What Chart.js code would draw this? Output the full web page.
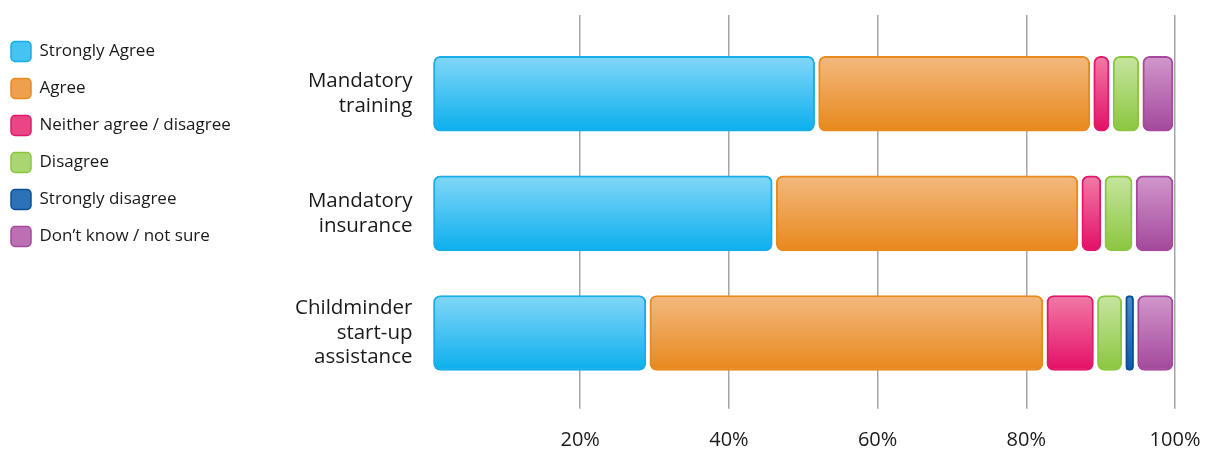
<!DOCTYPE html>
<html>
<head>
<meta charset="utf-8">
<script src="https://cdn.jsdelivr.net/npm/chart.js@4.4.0/dist/chart.umd.min.js"></script>
<style>
  html, body { margin: 0; padding: 0; background: #fff; }
  #wrap { width: 1217px; height: 454px; }
</style>
</head>
<body>
<div id="wrap"><canvas id="chart"></canvas></div>
<script>
// categories and answers (percent of respondents)
const categories = [['Mandatory', 'training'], ['Mandatory', 'insurance'], ['Childminder', 'start-up', 'assistance']];
const seriesNames = ['Strongly Agree', 'Agree', 'Neither agree / disagree', 'Disagree', 'Strongly disagree', 'Don\u2019t know / not sure'];
const stronglyAgree = [51.8, 46.1, 29.1];
const agree = [37.0, 41.1, 53.4];
const neither = [2.6, 3.1, 6.8];
const disagree = [4.0, 4.2, 3.8];
const stronglyDisagree = [0, 0, 1.6];
const dontKnow = [4.6, 5.5, 5.3];
const tickValues = [20, 40, 60, 80, 100];

const BAR = 75;
const FONT = '"Open Sans", Lato, sans-serif';
const TEXT = '#1a1a1a';
const PAD_LEFT = -6;

// top / bottom / edge colour for each answer
const palette = [
  { top: '#82d7f7', mid: '#45c3f2', bottom: '#0bafed', edge: '#17ade8' },
  { top: '#f3b97f', mid: '#eea04d', bottom: '#e8881c', edge: '#e98a1f' },
  { top: '#f27aa6', mid: '#ea4585', bottom: '#e30f66', edge: '#e3176b' },
  { top: '#c6e5a0', mid: '#a9d670', bottom: '#8bc63f', edge: '#8cc63f' },
  { top: '#4a8cc9', mid: '#2b73b6', bottom: '#0c5aa3', edge: '#0a4f93' },
  { top: '#d197cb', mid: '#ba70b3', bottom: '#a3489b', edge: '#a6499e' }
];

function fillFor(i) {
  return (ctx) => {
    const chart = ctx.chart;
    const y = chart.scales.y;
    if (!y || ctx.type !== 'data') return palette[i].bottom;
    const c = y.getPixelForValue(ctx.dataIndex);
    const g = chart.ctx.createLinearGradient(0, c - BAR / 2, 0, c + BAR / 2);
    g.addColorStop(0, palette[i].top);
    g.addColorStop(1, palette[i].bottom);
    return g;
  };
}

const values = [stronglyAgree, agree, neither, disagree, stronglyDisagree, dontKnow];

// small white gap between the stacked pieces
const gapPlugin = {
  id: 'segmentGap',
  beforeDatasetDraw(chart, args) {
    args.meta.data.forEach(el => {
      el.$saved = [el.x, el.base];
      const w = el.x - el.base;
      if (Math.abs(w) < 5) return;
      const d = w > 0 ? 2 : -2;
      el.x -= d;
      el.base += d;
    });
  },
  afterDatasetDraw(chart, args) {
    args.meta.data.forEach(el => {
      if (el.$saved) { el.x = el.$saved[0]; el.base = el.$saved[1]; }
    });
  }
};

const setTicks = (scale) => { scale.ticks = tickValues.map(v => ({ value: v })); };
const r = 7;

new Chart(document.getElementById('chart'), {
  type: 'bar',
  data: {
    labels: categories,
    datasets: seriesNames.map((name, i) => ({
      label: name,
      data: values[i],
      backgroundColor: fillFor(i),
      borderColor: palette[i].edge,
      borderWidth: 2,
      borderRadius: { topLeft: r, topRight: r, bottomLeft: r, bottomRight: r },
      borderSkipped: false,
      barThickness: BAR
    }))
  },
  options: {
    indexAxis: 'y',
    responsive: true,
    maintainAspectRatio: false,
    animation: false,
    layout: { padding: { top: 15, right: 42, bottom: 0, left: PAD_LEFT } },
    plugins: {
      tooltip: { enabled: false },
      legend: {
        position: 'left',
        align: 'start',
        title: { display: true, text: '', padding: 0, font: { size: 10, lineHeight: 0.95 } },
        labels: {
          boxWidth: 20,
          boxHeight: 20,
          padding: 17,
          color: TEXT,
          font: { family: FONT, size: 17 },
          useBorderRadius: true,
          borderRadius: 4,
          generateLabels: () => seriesNames.map((n, i) => ({
            text: n,
            fillStyle: palette[i].mid,
            strokeStyle: palette[i].edge,
            fontColor: TEXT,
            lineWidth: 1.5,
            borderRadius: 4,
            datasetIndex: i,
            hidden: false
          }))
        }
      }
    },
    scales: {
      x: {
        stacked: true,
        min: 0,
        max: 100,
        position: 'bottom',
        border: { display: false },
        grid: { color: '#a5a5a5', lineWidth: 1.5, tickLength: 16 },
        ticks: {
          padding: 20,
          color: TEXT,
          font: { family: FONT, size: 20 },
          callback: v => v + '%'
        },
        afterBuildTicks: setTicks,
        afterFit: (scale) => {
          scale.paddingLeft = 0;
          scale.paddingRight = 0;
          scale.height = 61.25;
        }
      },
      x2: {
        type: 'linear',
        position: 'top',
        min: 0,
        max: 100,
        border: { display: false },
        grid: { color: '#a5a5a5', lineWidth: 1.5, tickLength: 19, drawOnChartArea: false },
        ticks: { display: false },
        afterBuildTicks: setTicks,
        afterFit: (scale) => { scale.paddingLeft = 0; scale.paddingRight = 0; }
      },
      y: {
        stacked: true,
        border: { display: false },
        grid: { display: false, drawTicks: false },
        ticks: {
          padding: 19,
          color: TEXT,
          font: { family: FONT, size: 20.5 }
        },
        afterFit: (scale) => {
          const lw = scale.chart.legend ? scale.chart.legend.width : 0;
          scale.width = 431.5 - PAD_LEFT - lw;
          scale.paddingTop = 0;
          scale.paddingBottom = 0;
        }
      }
    }
  },
  plugins: [gapPlugin]
});
</script>
</body>
</html>
